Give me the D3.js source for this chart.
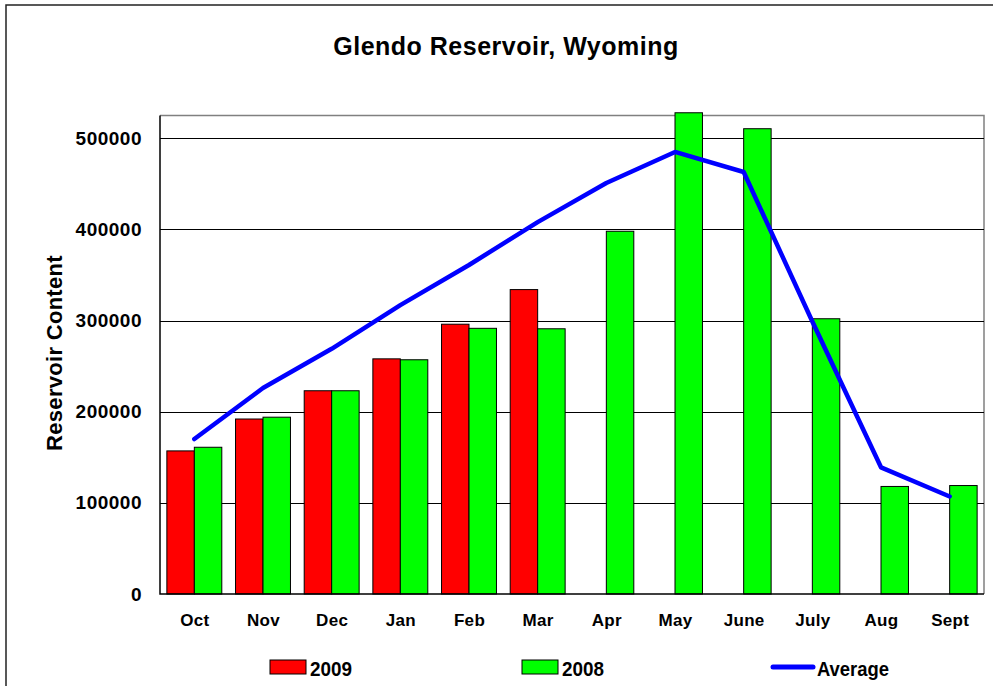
<!DOCTYPE html>
<html>
<head>
<meta charset="utf-8">
<script src="https://cdn.jsdelivr.net/npm/d3@7"></script>
<style>
  body { margin: 0; background: #fff; }
  svg { display: block; font-family: "Liberation Sans", Arial, sans-serif; }
</style>
</head>
<body>
<div id="chart"></div>
<script>
// Data
const months = ["Oct", "Nov", "Dec", "Jan", "Feb", "Mar", "Apr", "May", "June", "July", "Aug", "Sept"];
const series = ["2009", "2008"];
const values2009 = [157000, 192000, 223000, 258000, 296000, 334000, null, null, null, null, null, null];
const values2008 = [161000, 194000, 223000, 257000, 291500, 291000, 398000, 528000, 510500, 302000, 118000, 119000];
const average = [170000, 226000, 269000, 317000, 361000, 408000, 451000, 485000, 463000, 299000, 139000, 107000];
const yTicks = [0, 100000, 200000, 300000, 400000, 500000];
const colors = { "2009": "#ff0000", "2008": "#00ff00", "Average": "#0000ff" };

const width = 993, height = 686;
const plot = { left: 160, right: 984, top: 115.5, bottom: 594 };

const svg = d3.select("#chart").append("svg")
    .attr("width", width)
    .attr("height", height);

// outer chart frame (runs off the right and bottom edge)
svg.append("rect")
    .attr("x", 6).attr("y", 5)
    .attr("width", 1000).attr("height", 700)
    .attr("fill", "#fff")
    .attr("stroke", "#222")
    .attr("stroke-width", 1.5);

// scales
const x = d3.scaleBand()
    .domain(months)
    .range([plot.left, plot.right])
    .paddingInner(0.2)
    .paddingOuter(0.1);

const x1 = d3.scaleBand()
    .domain(series)
    .range([0, x.bandwidth()]);

const y = d3.scaleLinear()
    .domain([0, 525000])
    .range([plot.bottom, plot.top]);

// plot area border: grey top and right
svg.append("path")
    .attr("d", `M${plot.left},${plot.top}H${plot.right}V${plot.bottom}`)
    .attr("fill", "none")
    .attr("stroke", "#808080")
    .attr("stroke-width", 1.5);

// gridlines
svg.append("g")
    .selectAll("line")
    .data(yTicks.filter(d => d > 0))
    .join("line")
    .attr("x1", plot.left).attr("x2", plot.right)
    .attr("y1", d => Math.round(y(d)) + 0.5)
    .attr("y2", d => Math.round(y(d)) + 0.5)
    .attr("stroke", "#000")
    .attr("stroke-width", 1);

// y tick labels
svg.append("g")
    .selectAll("text")
    .data(yTicks)
    .join("text")
    .attr("x", 142)
    .attr("y", d => y(d) + 6.5)
    .attr("text-anchor", "end")
    .attr("font-size", 19)
    .attr("font-weight", "bold")
    .attr("letter-spacing", 0.5)
    .text(d => d);

// bars
const rows = months.map((m, i) => ({ month: m, "2009": values2009[i], "2008": values2008[i] }));

svg.append("g")
    .selectAll("g")
    .data(rows)
    .join("g")
    .attr("transform", d => `translate(${x(d.month)},0)`)
    .selectAll("rect")
    .data(d => series.filter(s => d[s] != null).map(s => ({ key: s, value: d[s] })))
    .join("rect")
    .attr("x", d => x1(d.key))
    .attr("y", d => y(d.value))
    .attr("width", x1.bandwidth())
    .attr("height", d => y(0) - y(d.value))
    .attr("fill", d => colors[d.key])
    .attr("stroke", "#000")
    .attr("stroke-width", 1);

// axes lines: left and bottom in black
svg.append("path")
    .attr("d", `M${plot.left},${plot.top}V${plot.bottom}H${plot.right}`)
    .attr("fill", "none")
    .attr("stroke", "#000")
    .attr("stroke-width", 1.5);

// average line
const line = d3.line()
    .x((d, i) => x(months[i]) + x.bandwidth() / 2)
    .y(d => y(d));

svg.append("path")
    .datum(average)
    .attr("d", line)
    .attr("fill", "none")
    .attr("stroke", colors.Average)
    .attr("stroke-width", 4.5)
    .attr("stroke-linejoin", "round")
    .attr("stroke-linecap", "round");

// month labels
svg.append("g")
    .selectAll("text")
    .data(months)
    .join("text")
    .attr("x", d => x(d) + x.bandwidth() / 2 + 0.5)
    .attr("y", 626)
    .attr("text-anchor", "middle")
    .attr("font-size", 17)
    .attr("font-weight", "bold")
    .attr("letter-spacing", 0.3)
    .text(d => d);

// title
svg.append("text")
    .attr("x", 506)
    .attr("y", 55)
    .attr("text-anchor", "middle")
    .attr("font-size", 25)
    .attr("font-weight", "bold")
    .attr("letter-spacing", 0.5)
    .text("Glendo Reservoir, Wyoming");

// y axis title
svg.append("text")
    .attr("transform", "translate(61.5,353) rotate(-90)")
    .attr("text-anchor", "middle")
    .attr("font-size", 22)
    .attr("font-weight", "bold")
    .attr("letter-spacing", 0.3)
    .text("Reservoir Content");

// legend
const legend = [
    { name: "2009", type: "rect", x: 270, textW: 42 },
    { name: "2008", type: "rect", x: 522, textW: 42 },
    { name: "Average", type: "line", x: 772, textW: 72 }
];

const lg = svg.append("g")
    .selectAll("g")
    .data(legend)
    .join("g")
    .attr("transform", d => `translate(${d.x},0)`);

lg.filter(d => d.type === "rect").append("rect")
    .attr("x", 0).attr("y", 660)
    .attr("width", 36).attr("height", 14)
    .attr("fill", d => colors[d.name])
    .attr("stroke", "#000");

lg.filter(d => d.type === "line").append("line")
    .attr("x1", 1).attr("x2", 41)
    .attr("y1", 667).attr("y2", 667)
    .attr("stroke", colors.Average)
    .attr("stroke-width", 5)
    .attr("stroke-linecap", "round");

lg.append("text")
    .attr("x", d => d.type === "rect" ? 40 : 45)
    .attr("y", 676)
    .attr("font-family", "'Liberation Sans Narrow', 'Arial Narrow', 'Liberation Sans', sans-serif")
    .attr("font-size", 21)
    .attr("font-weight", "bold")
    .attr("textLength", d => d.textW)
    .attr("lengthAdjust", "spacingAndGlyphs")
    .text(d => d.name);
</script>
</body>
</html>
